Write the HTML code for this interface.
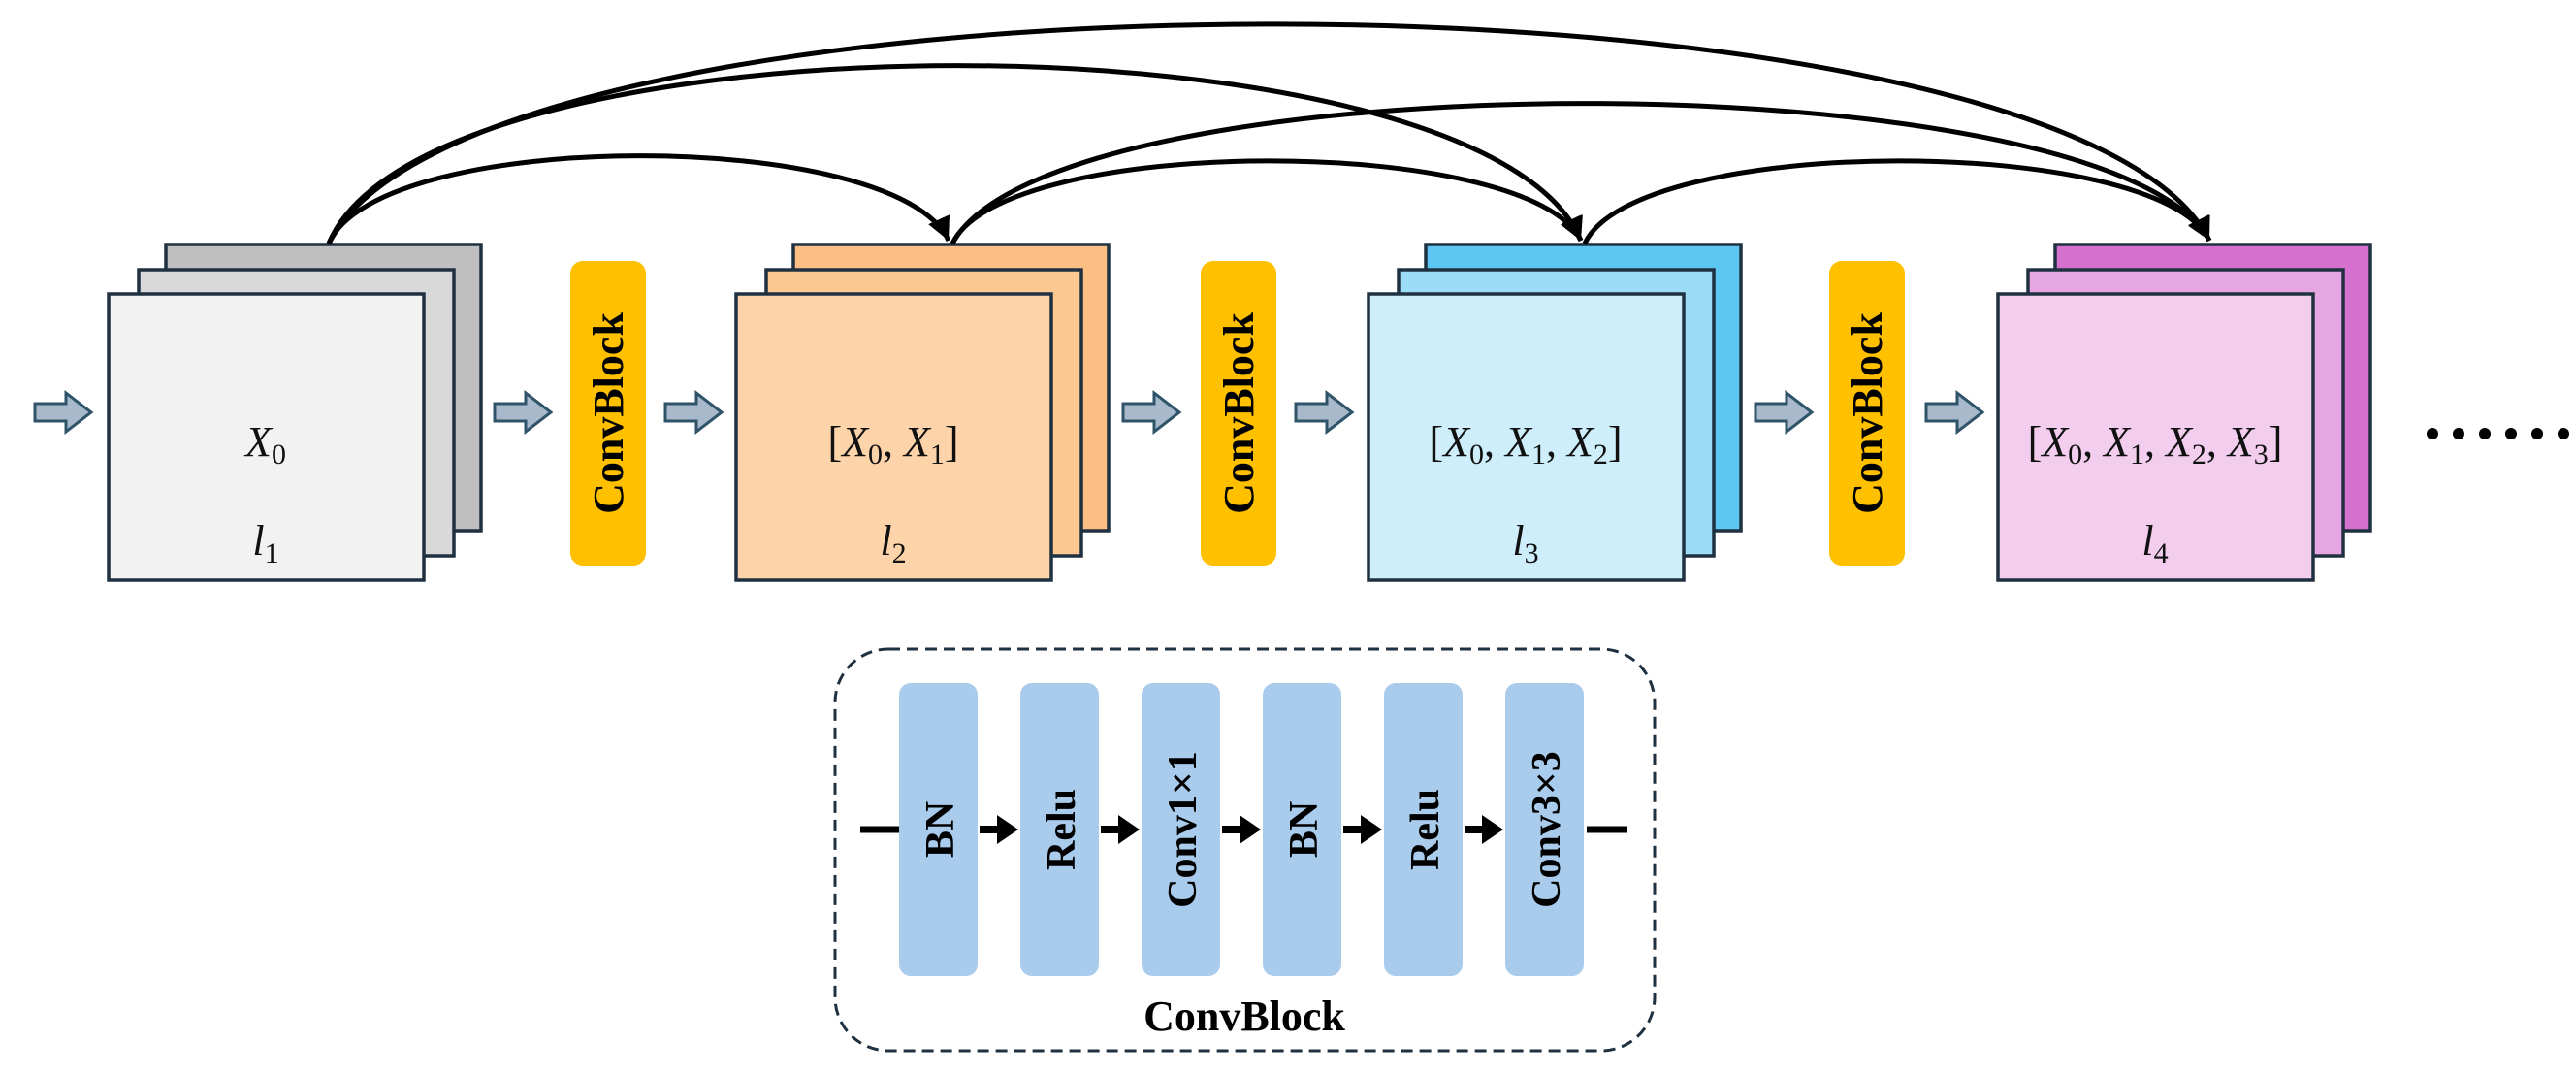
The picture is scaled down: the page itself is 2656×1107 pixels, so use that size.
<!DOCTYPE html>
<html><head><meta charset="utf-8"><style>html,body{margin:0;padding:0;background:#fff}svg{display:block}</style></head>
<body>
<svg width="2656" height="1107" viewBox="0 0 2656 1107" xmlns="http://www.w3.org/2000/svg">
<defs>
<marker id="sa" viewBox="0 0 10 10" refX="10" refY="5" markerWidth="24" markerHeight="24" orient="auto" markerUnits="userSpaceOnUse">
<path d="M0,0 L10,5 L0,10 Z" fill="#000"/>
</marker>
<g id="barrow"><path d="M0,-9 H32 V-20 L58,0 L32,20 V9 H0 Z" fill="#a9b9cc" stroke="#2f5368" stroke-width="3"/></g>
</defs>

<use href="#barrow" x="36" y="425"/>
<use href="#barrow" x="510" y="425"/>
<use href="#barrow" x="686" y="425"/>
<use href="#barrow" x="1158" y="425"/>
<use href="#barrow" x="1336" y="425"/>
<use href="#barrow" x="1810" y="425"/>
<use href="#barrow" x="1986" y="425"/>

<g stroke="#1f3140" stroke-width="3.5">
<rect x="171" y="252" width="325" height="295" fill="#bfbfbf"/>
<rect x="143" y="278" width="325" height="295" fill="#d9d9d9"/>
<rect x="112" y="303" width="325" height="295" fill="#f2f2f2"/>
<rect x="818" y="252" width="325" height="295" fill="#fbbf85"/>
<rect x="790" y="278" width="325" height="295" fill="#fcc891"/>
<rect x="759" y="303" width="325" height="295" fill="#fdd4a9"/>
<rect x="1470" y="252" width="325" height="295" fill="#5ec6f2"/>
<rect x="1442" y="278" width="325" height="295" fill="#9ddcf6"/>
<rect x="1411" y="303" width="325" height="295" fill="#cdeefa"/>
<rect x="2119" y="252" width="325" height="295" fill="#d670cf"/>
<rect x="2091" y="278" width="325" height="295" fill="#e6a6e1"/>
<rect x="2060" y="303" width="325" height="295" fill="#f2cdee"/>
</g>

<g fill="#ffc000">
<rect x="588" y="269" width="78" height="314" rx="13"/>
<rect x="1238" y="269" width="78" height="314" rx="13"/>
<rect x="1886" y="269" width="78" height="314" rx="13"/>
</g>
<g font-family="Liberation Serif, serif" font-weight="bold" font-size="44" fill="#000" text-anchor="middle">
<text transform="translate(642,426) rotate(-90)">ConvBlock</text>
<text transform="translate(1292,426) rotate(-90)">ConvBlock</text>
<text transform="translate(1940,426) rotate(-90)">ConvBlock</text>
</g>

<g font-family="Liberation Serif, serif" font-size="44" fill="#111" text-anchor="middle">
<text x="274" y="470"><tspan font-style="italic">X</tspan><tspan font-size="30" dy="8">0</tspan></text>
<text x="274" y="572"><tspan font-style="italic">l</tspan><tspan font-size="30" dy="8">1</tspan></text>
<text x="921" y="470">[<tspan font-style="italic">X</tspan><tspan font-size="30" dy="8">0</tspan><tspan dy="-8">, </tspan><tspan font-style="italic">X</tspan><tspan font-size="30" dy="8">1</tspan><tspan dy="-8">]</tspan></text>
<text x="921" y="572"><tspan font-style="italic">l</tspan><tspan font-size="30" dy="8">2</tspan></text>
<text x="1573" y="470">[<tspan font-style="italic">X</tspan><tspan font-size="30" dy="8">0</tspan><tspan dy="-8">, </tspan><tspan font-style="italic">X</tspan><tspan font-size="30" dy="8">1</tspan><tspan dy="-8">, </tspan><tspan font-style="italic">X</tspan><tspan font-size="30" dy="8">2</tspan><tspan dy="-8">]</tspan></text>
<text x="1573" y="572"><tspan font-style="italic">l</tspan><tspan font-size="30" dy="8">3</tspan></text>
<text x="2222" y="470">[<tspan font-style="italic">X</tspan><tspan font-size="30" dy="8">0</tspan><tspan dy="-8">, </tspan><tspan font-style="italic">X</tspan><tspan font-size="30" dy="8">1</tspan><tspan dy="-8">, </tspan><tspan font-style="italic">X</tspan><tspan font-size="30" dy="8">2</tspan><tspan dy="-8">, </tspan><tspan font-style="italic">X</tspan><tspan font-size="30" dy="8">3</tspan><tspan dy="-8">]</tspan></text>
<text x="2222" y="572"><tspan font-style="italic">l</tspan><tspan font-size="30" dy="8">4</tspan></text>
</g>
<g fill="#000">
<circle cx="2508" cy="447" r="6"/><circle cx="2535" cy="447" r="6"/><circle cx="2562" cy="447" r="6"/>
<circle cx="2589" cy="447" r="6"/><circle cx="2616" cy="447" r="6"/><circle cx="2643" cy="447" r="6"/>
</g>

<g fill="none" stroke="#000" stroke-width="5">
<path d="M339,251 C390,131 925,131 978,248" marker-end="url(#sa)"/>
<path d="M339,251 C440,7 1530,7 1630,248" marker-end="url(#sa)"/>
<path d="M339,251 C490,-50 2130,-50 2278,248" marker-end="url(#sa)"/>
<path d="M982,251 C1035,138 1578,138 1630,248" marker-end="url(#sa)"/>
<path d="M982,251 C1085,59 2175,59 2278,248" marker-end="url(#sa)"/>
<path d="M1634,251 C1686,138 2226,138 2278,248" marker-end="url(#sa)"/>
</g>

<rect x="861" y="669" width="845" height="414" rx="55" fill="none" stroke="#1f3140" stroke-width="3" stroke-dasharray="12,7"/>
<g fill="#a9cbec">
<rect x="927" y="704" width="81" height="302" rx="12"/>
<rect x="1052" y="704" width="81" height="302" rx="12"/>
<rect x="1177" y="704" width="81" height="302" rx="12"/>
<rect x="1302" y="704" width="81" height="302" rx="12"/>
<rect x="1427" y="704" width="81" height="302" rx="12"/>
<rect x="1552" y="704" width="81" height="302" rx="12"/>
</g>
<g stroke="#000" stroke-width="7" fill="none">
<line x1="887" y1="855" x2="927" y2="855"/>
<line x1="1636" y1="855" x2="1678" y2="855"/>
</g>
<g fill="#000">
<path d="M1010,851 H1028 V840 L1050,855 L1028,870 V859 H1010 Z"/>
<path d="M1135,851 H1153 V840 L1175,855 L1153,870 V859 H1135 Z"/>
<path d="M1260,851 H1278 V840 L1300,855 L1278,870 V859 H1260 Z"/>
<path d="M1385,851 H1403 V840 L1425,855 L1403,870 V859 H1385 Z"/>
<path d="M1510,851 H1528 V840 L1550,855 L1528,870 V859 H1510 Z"/>
</g>
<g font-family="Liberation Serif, serif" font-weight="bold" font-size="42" fill="#000" text-anchor="middle">
<text transform="translate(983,855) rotate(-90)">BN</text>
<text transform="translate(1108,855) rotate(-90)">Relu</text>
<text transform="translate(1233,855) rotate(-90)">Conv1×1</text>
<text transform="translate(1358,855) rotate(-90)">BN</text>
<text transform="translate(1483,855) rotate(-90)">Relu</text>
<text transform="translate(1608,855) rotate(-90)">Conv3×3</text>
</g>
<text x="1283" y="1062" font-family="Liberation Serif, serif" font-weight="bold" font-size="44" text-anchor="middle">ConvBlock</text>
</svg>
</body></html>
